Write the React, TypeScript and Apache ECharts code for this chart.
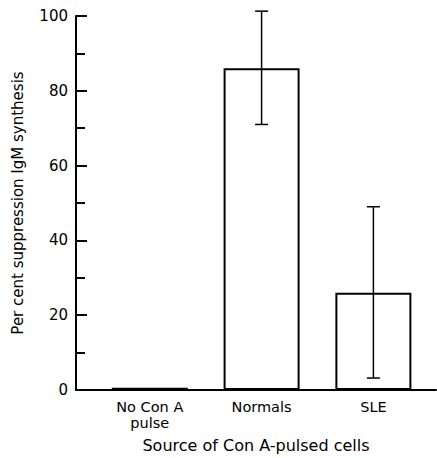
import React, { useEffect, useRef } from "react";
import * as echarts from "echarts";

const categories = ["No Con A\npulse", "Normals", "SLE"];
const positions = [1, 2, 3];
const means = [0.6, 86, 26];
const errLow = [null, 71, 3.2];
const errHigh = [null, 101.3, 49];
const yTicks = [0, 20, 40, 60, 80, 100];

const FONT = "DejaVu Sans";

export default function App() {
  const ref = useRef<HTMLDivElement>(null);
  useEffect(() => {
    if (!ref.current) return;
    const chart = echarts.init(ref.current, null, { renderer: "svg" });
    const barData = positions.map((p, i) => [p, means[i]]);
    const errData = positions
      .map((p, i) => [p, errLow[i], errHigh[i]])
      .filter((d) => d[1] !== null);
    chart.setOption({
      animation: false,
      backgroundColor: "#ffffff",
      grid: { left: 76, top: 16, right: 1, bottom: 68, outerBoundsMode: "none", containLabel: false },
      xAxis: {
        type: "value",
        min: 0.34,
        max: 3.56,
        splitLine: { show: false },
        axisLine: { show: true, onZero: false, lineStyle: { color: "#000", width: 2 } },
        axisTick: { show: false },
        axisLabel: {
          customValues: positions,
          formatter: (v: number) => categories[positions.indexOf(Math.round(v))] ?? "",
          color: "#000",
          fontFamily: FONT,
          fontSize: 14.5,
          lineHeight: 16,
          margin: 9,
        },
        name: "Source of Con A-pulsed cells",
        nameLocation: "middle",
        nameGap: 47,
        nameTextStyle: { color: "#000", fontFamily: FONT, fontSize: 16 },
      },
      yAxis: {
        type: "value",
        min: 0,
        max: 100,
        interval: 20,
        splitLine: { show: false },
        axisLine: { show: true, lineStyle: { color: "#000", width: 2 } },
        axisTick: { show: true, inside: true, length: 11, lineStyle: { color: "#000", width: 2 } },
        minorTick: { show: true, splitNumber: 2, length: 9, lineStyle: { color: "#000", width: 2 } },
        axisLabel: {
          color: "#000",
          fontFamily: FONT,
          fontSize: 15,
          margin: 8,
          formatter: (v: number) => (yTicks.includes(v) ? String(v) : ""),
        },
        name: "Per cent suppression IgM synthesis",
        nameLocation: "middle",
        nameGap: 51,
        nameTextStyle: { color: "#000", fontFamily: FONT, fontSize: 15 },
      },
      series: [
        {
          type: "bar",
          data: barData,
          barWidth: 76,
          itemStyle: { color: "#fff", borderColor: "#000", borderWidth: 2 },
          z: 2,
        },
        {
          type: "custom",
          data: errData,
          z: 3,
          clip: false,
          renderItem: (params: any, api: any) => {
            const x = api.value(0);
            const lo = api.coord([x, api.value(1)]);
            const hi = api.coord([x, api.value(2)]);
            const half = 6.5;
            const style = { stroke: "#000", lineWidth: 1.5 };
            return {
              type: "group",
              children: [
                { type: "line", shape: { x1: lo[0], y1: lo[1], x2: hi[0], y2: hi[1] }, style },
                { type: "line", shape: { x1: lo[0] - half, y1: lo[1], x2: lo[0] + half, y2: lo[1] }, style },
                { type: "line", shape: { x1: hi[0] - half, y1: hi[1], x2: hi[0] + half, y2: hi[1] }, style },
              ],
            };
          },
        },
      ],
    });
    return () => chart.dispose();
  }, []);
  return (
    <div
      ref={ref}
      style={{ position: "absolute", left: 0, top: 0, width: 437, height: 458 }}
    />
  );
}
